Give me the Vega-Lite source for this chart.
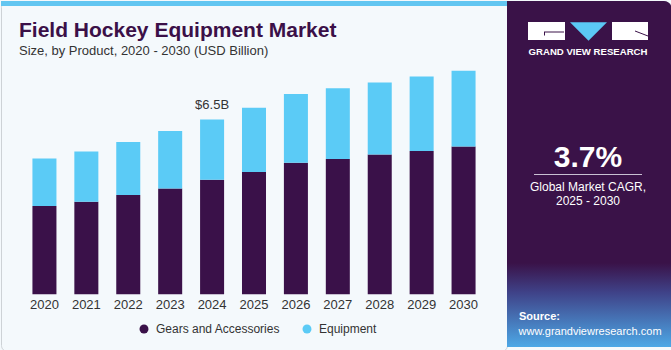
{
  "$schema": "https://vega.github.io/schema/vega-lite/v6.json",
  "padding": 0,
  "background": "#F4F9FC",
  "spacing": 0,
  "bounds": "flush",
  "config": {"view": {"stroke": null}, "font": "Liberation Sans"},
  "datasets": {
    "market": [
      {"year": "2020", "segment": "Gears and Accessories", "value": 3.28},
      {"year": "2020", "segment": "Equipment", "value": 1.77},
      {"year": "2021", "segment": "Gears and Accessories", "value": 3.44},
      {"year": "2021", "segment": "Equipment", "value": 1.87},
      {"year": "2022", "segment": "Gears and Accessories", "value": 3.69},
      {"year": "2022", "segment": "Equipment", "value": 1.97},
      {"year": "2023", "segment": "Gears and Accessories", "value": 3.93},
      {"year": "2023", "segment": "Equipment", "value": 2.14},
      {"year": "2024", "segment": "Gears and Accessories", "value": 4.26},
      {"year": "2024", "segment": "Equipment", "value": 2.24},
      {"year": "2025", "segment": "Gears and Accessories", "value": 4.55},
      {"year": "2025", "segment": "Equipment", "value": 2.38},
      {"year": "2026", "segment": "Gears and Accessories", "value": 4.89},
      {"year": "2026", "segment": "Equipment", "value": 2.56},
      {"year": "2027", "segment": "Gears and Accessories", "value": 5.03},
      {"year": "2027", "segment": "Equipment", "value": 2.63},
      {"year": "2028", "segment": "Gears and Accessories", "value": 5.2},
      {"year": "2028", "segment": "Equipment", "value": 2.67},
      {"year": "2029", "segment": "Gears and Accessories", "value": 5.33},
      {"year": "2029", "segment": "Equipment", "value": 2.77},
      {"year": "2030", "segment": "Gears and Accessories", "value": 5.49},
      {"year": "2030", "segment": "Equipment", "value": 2.82}
    ],
    "labels": [{"year": "2024", "total": 6.5, "label": "$6.5B"}]
  },
  "hconcat": [
    {
      "width": 506,
      "height": 350,
      "view": {"stroke": "#CDD2D6", "strokeWidth": 1, "cornerRadius": 6},
      "title": {
        "text": "Field Hockey Equipment Market",
        "subtitle": "Size, by Product, 2020 - 2030 (USD Billion)",
        "anchor": "start",
        "frame": "group",
        "orient": "top",
        "offset": -57,
        "dx": 18,
        "font": "Liberation Sans",
        "fontSize": 21,
        "fontWeight": "bold",
        "color": "#3B1048",
        "subtitleFont": "Liberation Sans",
        "subtitleFontSize": 13,
        "subtitleColor": "#333333",
        "subtitlePadding": 4
      },
      "layer": [
        {
          "data": {"values": [{}]},
          "mark": {"type": "rect", "color": "#62C6F1"},
          "encoding": {
            "x": {"value": 0},
            "x2": {"value": "width"},
            "y": {"datum": 10.72, "type": "quantitative", "scale": {"domain": [-2.108, 10.903], "nice": false, "zero": false}, "axis": null},
            "y2": {"datum": 10.903}
          }
        },
        {
          "data": {"name": "market"},
          "mark": {"type": "bar"},
          "encoding": {
            "x": {
              "field": "year",
              "type": "nominal",
              "scale": {"paddingInner": 0.427, "paddingOuter": 0.75},
              "axis": {
                "title": null,
                "orient": "bottom",
                "offset": -56.7,
                "domain": false,
                "ticks": false,
                "labelPadding": 4,
                "labelAngle": 0,
                "labelFont": "Liberation Sans",
                "labelFontSize": 13,
                "labelColor": "#333333"
              }
            },
            "y": {
              "field": "value",
              "type": "quantitative",
              "stack": "zero",
              "scale": {"domain": [-2.108, 10.903], "nice": false, "zero": false},
              "axis": null
            },
            "color": {
              "field": "segment",
              "type": "nominal",
              "scale": {"domain": ["Gears and Accessories", "Equipment"], "range": ["#3A1149", "#5BCBF6"]},
              "legend": {
                "title": null,
                "orient": "none",
                "legendX": 137,
                "legendY": 322,
                "direction": "horizontal",
                "symbolType": "circle",
                "symbolSize": 80,
                "labelFont": "Liberation Sans",
                "labelFontSize": 12,
                "labelColor": "#333333",
                "columnPadding": 20,
                "labelOffset": 6,
                "padding": 0
              }
            },
            "order": {"field": "segment", "sort": "descending"}
          }
        },
        {
          "data": {"name": "labels"},
          "mark": {"type": "text", "dy": -10, "baseline": "alphabetic", "fontSize": 13, "color": "#333333", "font": "Liberation Sans"},
          "encoding": {
            "x": {"field": "year", "type": "nominal"},
            "y": {"field": "total", "type": "quantitative"},
            "text": {"field": "label"}
          }
        }
      ]
    },
    {
      "width": 165,
      "height": 350,
      "view": {"stroke": null},
      "data": {"values": [{}]},
      "layer": [
        {
          "mark": {"type": "rect", "color": "#3A1248", "cornerRadiusTopRight": 8},
          "encoding": {
            "x": {"datum": 0, "type": "quantitative", "scale": {"domain": [0, 165], "nice": false, "zero": false}, "axis": null},
            "x2": {"datum": 165},
            "y": {"datum": 0, "type": "quantitative", "scale": {"domain": [0, 350], "nice": false, "zero": false, "reverse": true}, "axis": null},
            "y2": {"datum": 346}
          }
        },
        {
          "mark": {
            "type": "rect",
            "fill": {
              "gradient": "linear", "x1": 0, "y1": 0, "x2": 0, "y2": 1,
              "stops": [
                {"offset": 0, "color": "#3A1248"},
                {"offset": 0.35, "color": "#3F4288"},
                {"offset": 1, "color": "#4DA8E6"}
              ]
            }
          },
          "encoding": {
            "x": {"datum": 0, "type": "quantitative"},
            "x2": {"datum": 165},
            "y": {"datum": 262, "type": "quantitative"},
            "y2": {"datum": 346}
          }
        },
        {
          "mark": {"type": "rect", "color": "#FFFFFF"},
          "encoding": {
            "x": {"datum": 21, "type": "quantitative"},
            "x2": {"datum": 58},
            "y": {"datum": 21, "type": "quantitative"},
            "y2": {"datum": 39}
          }
        },
        {
          "mark": {"type": "rect", "color": "#FFFFFF"},
          "encoding": {
            "x": {"datum": 105, "type": "quantitative"},
            "x2": {"datum": 141},
            "y": {"datum": 21, "type": "quantitative"},
            "y2": {"datum": 39}
          }
        },
        {
          "mark": {"type": "rule", "color": "#3A1248", "strokeWidth": 1},
          "encoding": {
            "x": {"datum": 37, "type": "quantitative"},
            "x2": {"datum": 57},
            "y": {"datum": 31, "type": "quantitative"}
          }
        },
        {
          "mark": {"type": "rule", "color": "#3A1248", "strokeWidth": 1},
          "encoding": {
            "x": {"datum": 37.5, "type": "quantitative"},
            "y": {"datum": 31, "type": "quantitative"},
            "y2": {"datum": 34.5}
          }
        },
        {
          "mark": {"type": "rule", "color": "#3A1248", "strokeWidth": 1},
          "encoding": {
            "x": {"datum": 128, "type": "quantitative"},
            "x2": {"datum": 141},
            "y": {"datum": 30, "type": "quantitative"},
            "y2": {"datum": 35}
          }
        },
        {
          "mark": {"type": "point", "shape": "M-1,-0.5L1,-0.5L0,0.5Z", "size": 1369, "filled": true, "color": "#5BC8F5", "opacity": 1, "strokeWidth": 0},
          "encoding": {
            "x": {"datum": 81.5, "type": "quantitative"},
            "y": {"datum": 30.5, "type": "quantitative"}
          }
        },
        {
          "mark": {"type": "text", "text": "GRAND VIEW RESEARCH", "color": "#FFFFFF", "fontSize": 9.6, "fontWeight": "bold", "align": "center", "baseline": "alphabetic", "font": "Liberation Sans"},
          "encoding": {
            "x": {"datum": 81, "type": "quantitative"},
            "y": {"datum": 54, "type": "quantitative"}
          }
        },
        {
          "mark": {"type": "text", "text": "3.7%", "color": "#FFFFFF", "fontSize": 30, "fontWeight": "bold", "align": "center", "baseline": "alphabetic", "font": "Liberation Sans"},
          "encoding": {
            "x": {"datum": 81, "type": "quantitative"},
            "y": {"datum": 166, "type": "quantitative"}
          }
        },
        {
          "mark": {"type": "rule", "color": "#C9C0D3", "strokeWidth": 1},
          "encoding": {
            "x": {"datum": 27, "type": "quantitative"},
            "x2": {"datum": 135},
            "y": {"datum": 173.5, "type": "quantitative"}
          }
        },
        {
          "mark": {"type": "text", "text": "Global Market CAGR,", "color": "#FFFFFF", "fontSize": 12, "align": "center", "baseline": "alphabetic", "font": "Liberation Sans"},
          "encoding": {
            "x": {"datum": 81, "type": "quantitative"},
            "y": {"datum": 189.5, "type": "quantitative"}
          }
        },
        {
          "mark": {"type": "text", "text": "2025 - 2030", "color": "#FFFFFF", "fontSize": 12, "align": "center", "baseline": "alphabetic", "font": "Liberation Sans"},
          "encoding": {
            "x": {"datum": 81, "type": "quantitative"},
            "y": {"datum": 204, "type": "quantitative"}
          }
        },
        {
          "mark": {"type": "text", "text": "Source:", "color": "#FFFFFF", "fontSize": 11, "fontWeight": "bold", "align": "left", "baseline": "alphabetic", "font": "Liberation Sans"},
          "encoding": {
            "x": {"datum": 12, "type": "quantitative"},
            "y": {"datum": 319, "type": "quantitative"}
          }
        },
        {
          "mark": {"type": "text", "text": "www.grandviewresearch.com", "color": "#FFFFFF", "fontSize": 11, "align": "left", "baseline": "alphabetic", "font": "Liberation Sans"},
          "encoding": {
            "x": {"datum": 11.5, "type": "quantitative"},
            "y": {"datum": 333.5, "type": "quantitative"}
          }
        }
      ]
    }
  ]
}
